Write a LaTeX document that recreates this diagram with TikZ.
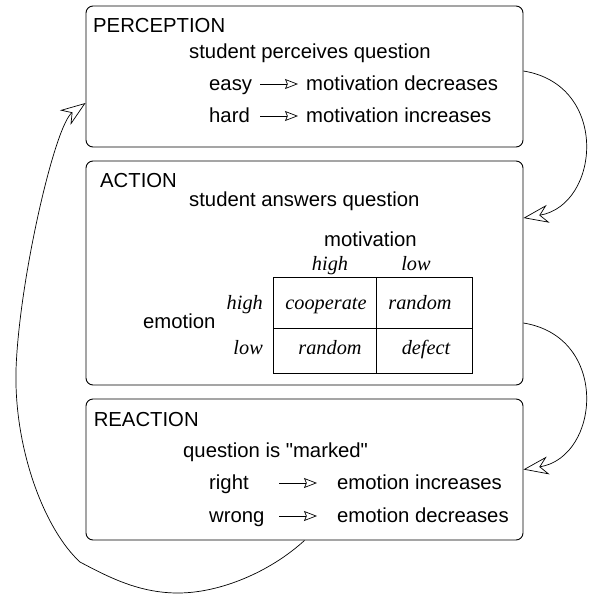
\documentclass[tikz,border=0pt]{standalone}
\usepackage{fontspec}
\setmainfont{Liberation Sans}[Ligatures=TeXOff]
\newfontfamily\cellfont{Liberation Serif}
\usetikzlibrary{positioning,calc,arrows.meta}
\newcommand{\stagefont}{\fontsize{20.3}{24}\selectfont}

\begin{document}
\begin{tikzpicture}[x=1pt,y=-1pt,
stage/.style={draw,rounded corners=7pt,line width=0.9pt,minimum width=437pt,inner sep=0pt},
txt/.style={anchor=base west,inner sep=0pt,font=\stagefont},
cell/.style={anchor=base,inner sep=0pt,font=\stagefont\cellfont\itshape},
cycle/.style={-{Stealth[open,length=25pt,width=18pt,inset=8pt]},line width=0.7pt},
implies/.style={-{Stealth[open,length=13pt,width=10pt,inset=2pt]},line width=0.7pt}]

\useasboundingbox (0,0) rectangle (592,597);

% stages
\node[stage,minimum height=141pt] (perception) at (304.5,76.5) {};
\node[stage,minimum height=224pt] (action) at (304.5,273) {};
\node[stage,minimum height=141pt] (reaction) at (304.5,469.5) {};

% perception text
\node[txt] (ptitle) at (93,32) {PERCEPTION};
\node[txt] (perceives) at (189,58) {student perceives question};
\node[txt] (easy) at (209,90) {easy};
\node[txt] (motdec) at (306,90) {motivation decreases};
\node[txt] (hard) at (209,122) {hard};
\node[txt] (motinc) at (306,122) {motivation increases};
\coordinate (easyarr) at (260,84);
\coordinate (hardarr) at (260,116);
\draw[implies,shorten >=8pt] (easyarr) -- (easyarr -| motdec.west);
\draw[implies,shorten >=8pt] (hardarr) -- (hardarr -| motinc.west);

% action text
\node[txt] (atitle) at (100,187) {ACTION};
\node[txt] (answers) at (189,206) {student answers question};
\node[txt] (motivation) at (324,246) {motivation};
\node[txt] (emotion) at (143,328) {emotion};
\node[cell] (colhigh) at (330,270) {high};
\node[cell] (collow) at (416,270) {low};
\node[cell,anchor=base east] (rowhigh) at (263,309) {high};
\node[cell,anchor=base east] (rowlow) at (263,354) {low};
\node[cell] (cooperate) at (326,309) {cooperate};
\node[cell] (randomA) at (420,309) {random};
\node[cell] (randomB) at (330,354) {random};
\node[cell] (defect) at (426,354) {defect};

% table
\draw[line width=0.8pt] (273,277) rectangle (472,373);
\draw[line width=0.8pt] (376,277) -- (376,373);
\draw[line width=0.8pt] (273,328) -- (472,328);

% reaction text
\node[txt] (rtitle) at (93.6,426) {REACTION};
\node[txt] (marked) at (183,457) {question is "marked"};
\node[txt] (right) at (209,489) {right};
\node[txt] (emoinc) at (337,489) {emotion increases};
\node[txt] (wrong) at (209,522) {wrong};
\node[txt] (emodec) at (337,522) {emotion decreases};
\coordinate (rightarr) at (279,483);
\coordinate (wrongarr) at (279,516);
\draw[implies,shorten >=20pt] (rightarr) -- (rightarr -| emoinc.west);
\draw[implies,shorten >=20pt] (wrongarr) -- (wrongarr -| emodec.west);

% cycle
\draw[cycle] ([yshift=5.5pt]perception.east) .. controls (610,85) and (600,205) .. ([yshift=55pt]action.east);
\draw[cycle] ([yshift=-50pt]action.east) .. controls (610,337) and (600,457) .. (reaction.east);
\draw[cycle] (reaction.south) .. controls (270,572) and (220,593) .. (178,593)
  .. controls (140,593) and (110,578) .. (80,562)
  .. controls (45,530) and (14,450) .. (16,370)
  .. controls (19,280) and (55,125) .. ([yshift=-26.5pt]perception.west);

\end{tikzpicture}
\end{document}
